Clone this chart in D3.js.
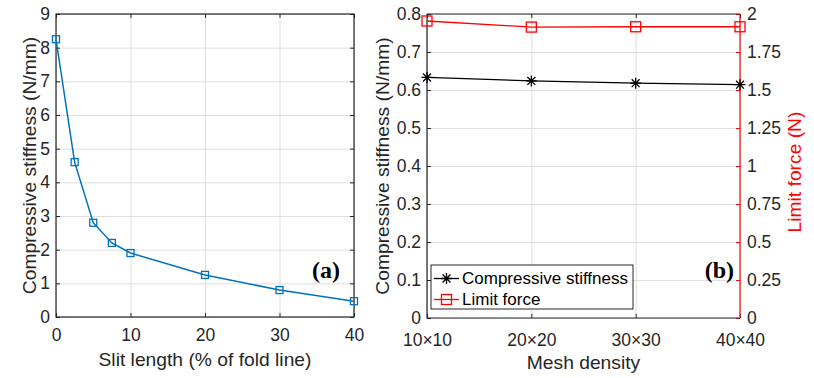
<!DOCTYPE html>
<html>
<head>
<meta charset="utf-8">
<script src="https://cdn.jsdelivr.net/npm/d3@7"></script>
<style>
  body { margin: 0; background: #fff; }
  svg { display: block; font-family: "Liberation Sans", Arial, sans-serif; }
  .grid line { stroke: #dedede; stroke-width: 1; }
  .grid path { display: none; }
  .tick text { fill: #262626; }
</style>
</head>
<body>
<svg id="chart" width="814" height="378"></svg>
<script>
// (a) slit length study
const slitLength = [0, 2.5, 5, 7.5, 10, 20, 30, 40];
const stiffnessA = [8.25, 4.6, 2.8, 2.2, 1.9, 1.25, 0.8, 0.47];
const xTicksA = [0, 10, 20, 30, 40];
const yTicksA = [0, 1, 2, 3, 4, 5, 6, 7, 8, 9];

// (b) mesh convergence
const meshDensity = ["10×10", "20×20", "30×30", "40×40"];
const stiffnessB = [0.633, 0.624, 0.618, 0.614];
const limitForce = [1.954, 1.914, 1.916, 1.916];
const yTicksB = [0, 0.1, 0.2, 0.3, 0.4, 0.5, 0.6, 0.7, 0.8];
const yTicksB2 = [0, 0.25, 0.5, 0.75, 1, 1.25, 1.5, 1.75, 2];

const svg = d3.select("#chart");
const tickFont = 17.5, labelFont = 19.25;
const axisColor = "#262626";

function styleAxis(g, color) {
  g.select(".domain").remove();
  g.selectAll(".tick line").attr("stroke", color);
  g.selectAll(".tick text").attr("fill", color).style("font-size", tickFont + "px");
}

// ---------- panel (a) ----------
{
  const x = d3.scaleLinear().domain([0, 40]).range([56, 354]);
  const y = d3.scaleLinear().domain([0, 9]).range([317, 14]);
  const g = svg.append("g");

  g.append("g").attr("class", "grid")
      .attr("transform", `translate(0,${y(0)})`)
      .call(d3.axisBottom(x).tickValues(xTicksA).tickSize(-(y(0) - y(9))).tickFormat(""));
  g.append("g").attr("class", "grid")
      .attr("transform", `translate(${x(0)},0)`)
      .call(d3.axisLeft(y).tickValues(yTicksA).tickSize(-(x(40) - x(0))).tickFormat(""));

  g.append("g")
      .attr("transform", `translate(0,${y(0)})`)
      .call(d3.axisBottom(x).tickValues(xTicksA).tickSizeInner(-4).tickSizeOuter(0).tickPadding(12))
      .call(a => styleAxis(a, axisColor));
  g.append("g")
      .attr("transform", `translate(0,${y(9)})`)
      .call(d3.axisTop(x).tickValues(xTicksA).tickSizeInner(-4).tickSizeOuter(0).tickFormat(""))
      .call(a => styleAxis(a, axisColor));
  g.append("g")
      .attr("transform", `translate(${x(0)},0)`)
      .call(d3.axisLeft(y).tickValues(yTicksA).tickSizeInner(-4).tickSizeOuter(0).tickPadding(6))
      .call(a => styleAxis(a, axisColor));
  g.append("g")
      .attr("transform", `translate(${x(40)},0)`)
      .call(d3.axisRight(y).tickValues(yTicksA).tickSizeInner(-4).tickSizeOuter(0).tickFormat(""))
      .call(a => styleAxis(a, axisColor));

  g.append("rect")
      .attr("x", x(0)).attr("y", y(9))
      .attr("width", x(40) - x(0)).attr("height", y(0) - y(9))
      .attr("fill", "none").attr("stroke", axisColor).attr("stroke-width", 1.2);

  const pts = slitLength.map((d, i) => [d, stiffnessA[i]]);
  g.append("path")
      .datum(pts)
      .attr("fill", "none").attr("stroke", "#0072BD").attr("stroke-width", 1.5)
      .attr("d", d3.line().x(d => x(d[0])).y(d => y(d[1])));
  g.selectAll(".mk").data(pts).enter().append("rect")
      .attr("x", d => x(d[0]) - 3.5).attr("y", d => y(d[1]) - 3.5)
      .attr("width", 7).attr("height", 7)
      .attr("fill", "none").attr("stroke", "#0072BD").attr("stroke-width", 1.3);

  g.append("text")
      .attr("x", 340).attr("y", 278)
      .attr("text-anchor", "end")
      .style("font-family", "'Liberation Serif', 'Times New Roman', serif")
      .style("font-weight", "bold").style("font-size", "24px")
      .text("(a)");

  g.append("text")
      .attr("x", (x(0) + x(40)) / 2).attr("y", 366)
      .attr("text-anchor", "middle").attr("fill", axisColor)
      .style("font-size", labelFont + "px")
      .text("Slit length (% of fold line)");
  g.append("text")
      .attr("transform", `translate(36,${(y(0) + y(9)) / 2}) rotate(-90)`)
      .attr("text-anchor", "middle").attr("fill", axisColor)
      .style("font-size", labelFont + "px")
      .text("Compressive stiffness (N/mm)");
}

// ---------- panel (b) ----------
{
  const x = d3.scalePoint().domain(meshDensity).range([427, 740]);
  const y = d3.scaleLinear().domain([0, 0.8]).range([318, 14]);
  const y2 = d3.scaleLinear().domain([0, 2]).range([318, 14]);
  const red = "#ff0000";
  const g = svg.append("g");

  g.append("g").attr("class", "grid")
      .attr("transform", `translate(0,${y(0)})`)
      .call(d3.axisBottom(x).tickSize(-(y(0) - y(0.8))).tickFormat(""));
  g.append("g").attr("class", "grid")
      .attr("transform", `translate(427,0)`)
      .call(d3.axisLeft(y).tickValues(yTicksB).tickSize(-(740 - 427)).tickFormat(""));

  g.append("g")
      .attr("transform", `translate(0,${y(0)})`)
      .call(d3.axisBottom(x).tickSizeInner(-4).tickSizeOuter(0).tickPadding(16))
      .call(a => styleAxis(a, axisColor));
  g.append("g")
      .attr("transform", `translate(0,${y(0.8)})`)
      .call(d3.axisTop(x).tickSizeInner(-4).tickSizeOuter(0).tickFormat(""))
      .call(a => styleAxis(a, axisColor));
  g.append("g")
      .attr("transform", `translate(427,0)`)
      .call(d3.axisLeft(y).tickValues(yTicksB).tickFormat(d3.format("~g")).tickSizeInner(-4).tickSizeOuter(0).tickPadding(6))
      .call(a => styleAxis(a, axisColor));
  g.append("g")
      .attr("transform", `translate(740,0)`)
      .call(d3.axisRight(y2).tickValues(yTicksB2).tickFormat(d3.format("~g")).tickSizeInner(-4).tickSizeOuter(0).tickPadding(7))
      .call(a => styleAxis(a, red));

  // box: black left/top/bottom, red right
  g.append("path")
      .attr("d", `M740,${y(0.8)}H427V${y(0)}H740`)
      .attr("fill", "none").attr("stroke", axisColor).attr("stroke-width", 1.2);
  g.append("line")
      .attr("x1", 740).attr("x2", 740).attr("y1", y(0.8)).attr("y2", y(0))
      .attr("stroke", red).attr("stroke-width", 1.2);

  // limit force
  g.append("path")
      .datum(limitForce)
      .attr("fill", "none").attr("stroke", red).attr("stroke-width", 1.3)
      .attr("d", d3.line().x((d, i) => x(meshDensity[i])).y(d => y2(d)));
  g.selectAll(".sq").data(limitForce).enter().append("rect")
      .attr("x", (d, i) => x(meshDensity[i]) - 5).attr("y", d => y2(d) - 5)
      .attr("width", 10).attr("height", 10)
      .attr("fill", "none").attr("stroke", red).attr("stroke-width", 1.3);

  // stiffness
  const star = (cx, cy, r) => {
    const q = r * 0.72;
    return `M${cx - r},${cy}H${cx + r}M${cx},${cy - r}V${cy + r}` +
      `M${cx - q},${cy - q}L${cx + q},${cy + q}M${cx - q},${cy + q}L${cx + q},${cy - q}`;
  };
  g.append("path")
      .datum(stiffnessB)
      .attr("fill", "none").attr("stroke", "#000").attr("stroke-width", 1.3)
      .attr("d", d3.line().x((d, i) => x(meshDensity[i])).y(d => y(d)));
  g.selectAll(".st").data(stiffnessB).enter().append("path")
      .attr("d", (d, i) => star(x(meshDensity[i]), y(d), 5.5))
      .attr("stroke", "#000").attr("stroke-width", 1.3);

  g.append("text")
      .attr("x", 734).attr("y", 278)
      .attr("text-anchor", "end")
      .style("font-family", "'Liberation Serif', 'Times New Roman', serif")
      .style("font-weight", "bold").style("font-size", "24px")
      .text("(b)");

  // legend
  const lg = g.append("g");
  lg.append("rect")
      .attr("x", 431).attr("y", 265).attr("width", 202).attr("height", 44)
      .attr("fill", "#fff").attr("stroke", axisColor).attr("stroke-width", 1);
  const rows = [
    {name: "Compressive stiffness", color: "#000", mark: "star"},
    {name: "Limit force", color: red, mark: "square"}
  ];
  rows.forEach((r, i) => {
    const cy = 278.5 + i * 21;
    lg.append("line")
        .attr("x1", 434).attr("x2", 459).attr("y1", cy).attr("y2", cy)
        .attr("stroke", r.color).attr("stroke-width", 1.3);
    if (r.mark === "star") {
      lg.append("path").attr("d", star(446.5, cy, 5.5))
          .attr("stroke", r.color).attr("stroke-width", 1.3);
    } else {
      lg.append("rect").attr("x", 441.5).attr("y", cy - 5).attr("width", 10).attr("height", 10)
          .attr("fill", "none").attr("stroke", r.color).attr("stroke-width", 1.3);
    }
    lg.append("text")
        .attr("x", 462).attr("y", cy).attr("dy", "0.35em")
        .attr("fill", "#000").style("font-size", "17px")
        .text(r.name);
  });

  g.append("text")
      .attr("x", (427 + 740) / 2).attr("y", 369)
      .attr("text-anchor", "middle").attr("fill", axisColor)
      .style("font-size", labelFont + "px")
      .text("Mesh density");
  g.append("text")
      .attr("transform", `translate(389,166) rotate(-90)`)
      .attr("text-anchor", "middle").attr("fill", axisColor)
      .style("font-size", labelFont + "px")
      .text("Compressive stiffness (N/mm)");
  g.append("text")
      .attr("transform", `translate(801,172) rotate(-90)`)
      .attr("text-anchor", "middle").attr("fill", red)
      .style("font-size", labelFont + "px")
      .text("Limit force (N)");
}
</script>
</body>
</html>
